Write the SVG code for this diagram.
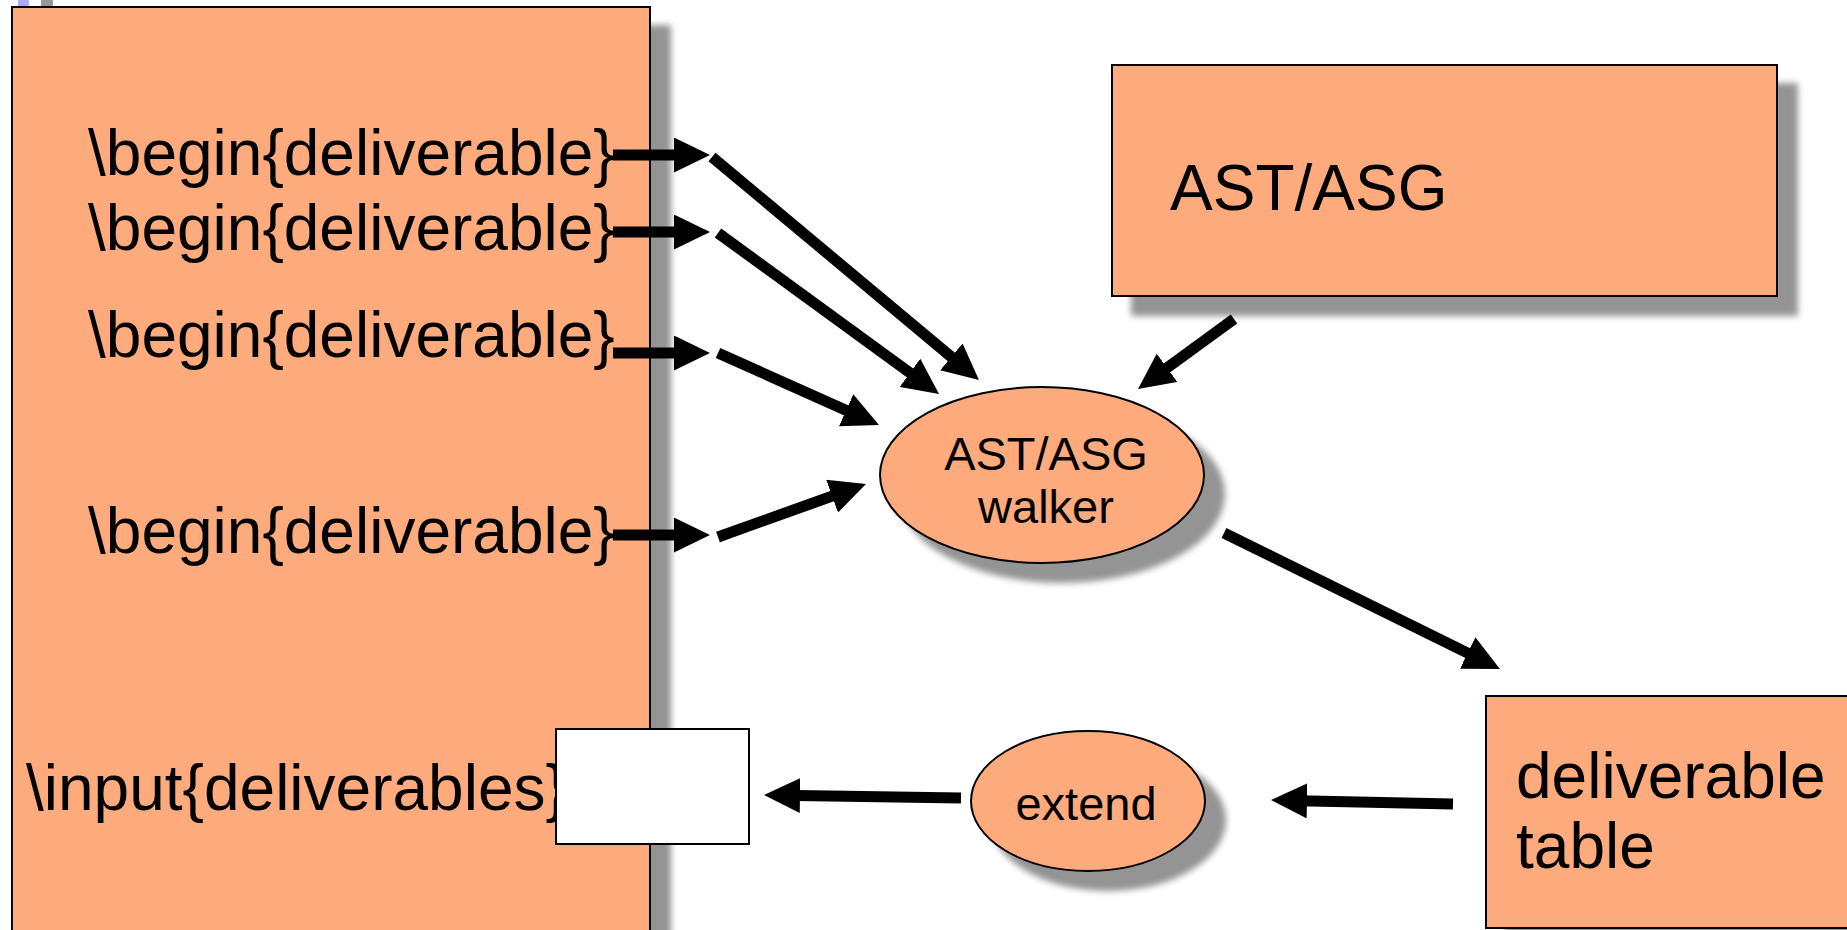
<svg xmlns="http://www.w3.org/2000/svg" width="1847" height="930" viewBox="0 0 1847 930">
<style>
.node{fill:#FDAB7B;stroke:#000;stroke-width:2}
.white{fill:#fff;stroke:#000;stroke-width:2}
.t{font-family:"Liberation Sans",Arial,sans-serif;fill:#000}
.big{font-size:64px}
.mid{font-size:47px}
.conn line{stroke:#000;stroke-width:11;marker-end:url(#ah)}
</style>
<defs>
<filter id="sh" x="-10%" y="-10%" width="130%" height="130%">
<feGaussianBlur in="SourceAlpha" stdDeviation="3"/>
<feOffset dx="20" dy="19" result="o"/>
<feFlood flood-color="#000" flood-opacity="0.42"/>
<feComposite in2="o" operator="in" result="s"/>
<feMerge><feMergeNode in="s"/><feMergeNode in="SourceGraphic"/></feMerge>
</filter>
<marker id="ah" markerUnits="userSpaceOnUse" markerWidth="36" markerHeight="35" viewBox="0 0 36 35" refX="20" refY="17.5" orient="auto">
<path d="M0,0 L36,17.5 L0,35 Z" fill="#000"/>
</marker>
</defs>
<rect x="18" y="0" width="11" height="7" fill="#aaaaff"/>
<rect x="41" y="0" width="12" height="7" fill="#999"/>
<g id="source">
<rect class="node" x="12" y="7" width="638" height="940" filter="url(#sh)"/>
<text class="t big" x="88" y="175">\begin{deliverable}</text>
<text class="t big" x="88" y="250">\begin{deliverable}</text>
<text class="t big" x="88" y="357">\begin{deliverable}</text>
<text class="t big" x="88" y="553">\begin{deliverable}</text>
<text class="t big" x="26" y="810">\input{deliverables}</text>
</g>
<g id="slot">
<rect class="white" x="556" y="729" width="193" height="115"/>
</g>
<g id="astbox">
<rect class="node" x="1112" y="65" width="665" height="231" filter="url(#sh)"/>
<text class="t big" x="1170" y="210">AST/ASG</text>
</g>
<g id="walker">
<ellipse class="node" cx="1042" cy="475" rx="162" ry="88" filter="url(#sh)"/>
<text class="t mid" x="1046" y="470" text-anchor="middle">AST/ASG</text>
<text class="t mid" x="1046" y="523" text-anchor="middle">walker</text>
</g>
<g id="table">
<rect class="node" x="1486" y="696" width="370" height="232" filter="url(#sh)"/>
<text class="t big" x="1516" y="798">deliverable</text>
<text class="t big" x="1516" y="868">table</text>
</g>
<g id="extend">
<ellipse class="node" cx="1088" cy="801" rx="117" ry="70" filter="url(#sh)"/>
<text class="t mid" x="1086" y="820" text-anchor="middle">extend</text>
</g>
<g id="connectors" class="conn">
<line x1="613" y1="155" x2="694" y2="155"/>
<line x1="613" y1="232" x2="694" y2="232"/>
<line x1="613" y1="353" x2="694" y2="353"/>
<line x1="613" y1="535" x2="694" y2="535"/>
<line x1="712" y1="157" x2="966.7" y2="369.7"/>
<line x1="718" y1="233" x2="926.1" y2="384.6"/>
<line x1="718" y1="353" x2="864.4" y2="418.5"/>
<line x1="718" y1="537" x2="850.9" y2="489.4"/>
<line x1="1234" y1="319" x2="1150.9" y2="379.6"/>
<line x1="1224" y1="533" x2="1485.6" y2="661.9"/>
<line x1="1453" y1="804" x2="1287" y2="800.4"/>
<line x1="961" y1="798" x2="780" y2="795.2"/>
</g>
</svg>
